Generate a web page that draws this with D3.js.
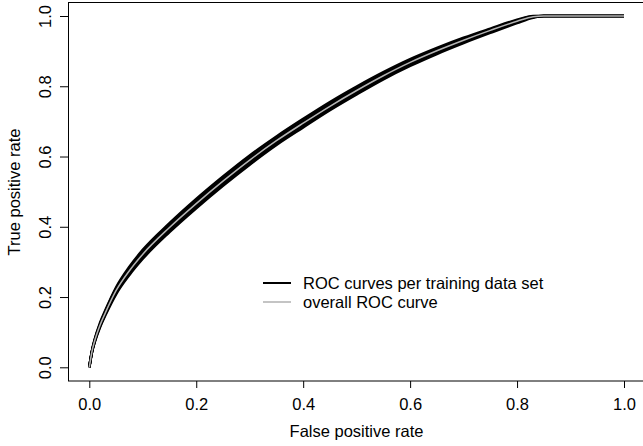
<!DOCTYPE html>
<html>
<head>
<meta charset="utf-8">
<script src="https://cdn.jsdelivr.net/npm/d3@7"></script>
<style>
body { margin: 0; background: #fff; }
text { font-family: "Liberation Sans", Arial, sans-serif; }
</style>
</head>
<body>
<div id="first"></div>
<script>
// false positive rate grid shared by all curves
var fpr = [0, 0.005, 0.01, 0.02, 0.03, 0.05, 0.075, 0.1, 0.15, 0.2, 0.25, 0.3, 0.35, 0.4, 0.45, 0.5, 0.55, 0.6, 0.65, 0.7, 0.75, 0.8, 0.83, 0.85, 0.9, 1];

// overall ROC curve
var overall = [0, 0.045, 0.075, 0.12, 0.155, 0.218, 0.275, 0.322, 0.398, 0.466, 0.53, 0.59, 0.645, 0.695, 0.743, 0.788, 0.83, 0.868, 0.901, 0.931, 0.959, 0.985, 0.998, 1, 1, 1];

// ROC curves per training data set
var set1 = [0, 0.047, 0.079, 0.126, 0.162, 0.227, 0.286, 0.334, 0.41, 0.479, 0.543, 0.603, 0.657, 0.707, 0.755, 0.799, 0.84, 0.877, 0.909, 0.938, 0.964, 0.989, 1, 1, 1, 1];
var set2 = [0, 0.043, 0.071, 0.114, 0.148, 0.208, 0.263, 0.309, 0.385, 0.453, 0.517, 0.577, 0.633, 0.683, 0.732, 0.777, 0.82, 0.858, 0.892, 0.923, 0.952, 0.98, 0.995, 1, 1, 1];
var set3 = [0, 0.046, 0.077, 0.123, 0.159, 0.223, 0.281, 0.328, 0.404, 0.471, 0.536, 0.596, 0.65, 0.7, 0.749, 0.793, 0.835, 0.872, 0.905, 0.935, 0.961, 0.987, 0.999, 1, 1, 1];
var set4 = [0, 0.044, 0.073, 0.117, 0.151, 0.212, 0.268, 0.314, 0.39, 0.46, 0.523, 0.584, 0.639, 0.69, 0.737, 0.783, 0.825, 0.863, 0.896, 0.927, 0.956, 0.983, 0.997, 1, 1, 1];
var set5 = [0, 0.045, 0.076, 0.121, 0.157, 0.221, 0.279, 0.325, 0.401, 0.473, 0.534, 0.593, 0.649, 0.698, 0.746, 0.79, 0.833, 0.87, 0.903, 0.932, 0.96, 0.986, 0.998, 1, 1, 1];
var set6 = [0, 0.044, 0.074, 0.118, 0.153, 0.214, 0.27, 0.317, 0.393, 0.462, 0.527, 0.587, 0.642, 0.692, 0.74, 0.786, 0.827, 0.866, 0.899, 0.93, 0.958, 0.984, 0.997, 1, 1, 1];
var trainingSets = [set1, set2, set3, set4, set5, set6];

var xTicks = [0, 0.2, 0.4, 0.6, 0.8, 1];
var yTicks = [0, 0.2, 0.4, 0.6, 0.8, 1];
var legendLabels = ["ROC curves per training data set", "overall ROC curve"];

var w = 643,
    h = 446;

var svg = d3.select("#first")
	.append("svg")
	.attr("width", w)
	.attr("height", h)

var x = d3.scaleLinear().domain([0, 1]).range([89.3, 624]);
var y = d3.scaleLinear().domain([0, 1]).range([367.3, 16]);

var line = d3.line()
	.x(function(d, i) { return x(fpr[i]); })
	.y(function(d) { return y(d); })
	.curve(d3.curveMonotoneX);

// training curves
trainingSets.forEach(function(s) {
	svg.append("path")
		.attr("d", line(s))
		.style("fill", "none")
		.style("stroke", "#000")
		.style("stroke-width", 2.6)
		.style("stroke-linejoin", "round")
});

// overall curve
svg.append("path")
	.attr("d", line(overall))
	.style("fill", "none")
	.style("stroke", "#b4b4b4")
	.style("stroke-width", 1.5)

// box
svg.append("rect")
	.attr("x", 68.5)
	.attr("y", 2.5)
	.attr("width", 580)
	.attr("height", 378.5)
	.style("fill", "none")
	.style("stroke", "#000")
	.style("stroke-width", 1)

// axes
var xAxis = svg.append("g")
	.attr("transform", "translate(0,381)")
	.call(d3.axisBottom(x).tickValues(xTicks).tickSize(7).tickPadding(0).tickFormat(d3.format(".1f")));
xAxis.select(".domain").remove();
xAxis.selectAll("text")
	.attr("y", 29)
	.attr("dy", null)
	.style("font-size", "16.5px")
	.style("font-family", "Liberation Sans, Arial, sans-serif")

var yAxis = svg.append("g")
	.attr("transform", "translate(68,0)")
	.call(d3.axisLeft(y).tickValues(yTicks).tickSize(8).tickFormat(d3.format(".1f")));
yAxis.select(".domain").remove();
yAxis.selectAll("text")
	.attr("x", null)
	.attr("dy", null)
	.attr("transform", "translate(-17,0) rotate(-90)")
	.style("text-anchor", "middle")
	.style("font-size", "16.5px")
	.style("font-family", "Liberation Sans, Arial, sans-serif")

svg.selectAll(".tick line").style("stroke", "#000");

// axis titles
svg.append("text")
	.attr("x", 356.5)
	.attr("y", 437)
	.attr("text-anchor", "middle")
	.style("font-size", "16.5px")
	.text("False positive rate")

svg.append("text")
	.attr("transform", "translate(20,192) rotate(-90)")
	.attr("text-anchor", "middle")
	.style("font-size", "16.5px")
	.text("True positive rate")

// legend
var legendColors = ["#000", "#c4c4c4"];
legendLabels.forEach(function(lab, i) {
	var ly = 283 + i * 19;
	svg.append("line")
		.attr("x1", 263)
		.attr("x2", 291)
		.attr("y1", ly)
		.attr("y2", ly)
		.style("stroke", legendColors[i])
		.style("stroke-width", 2)
	svg.append("text")
		.attr("x", 303)
		.attr("y", ly + 6)
		.style("font-size", "16.5px")
		.text(lab)
});
</script>
</body>
</html>
